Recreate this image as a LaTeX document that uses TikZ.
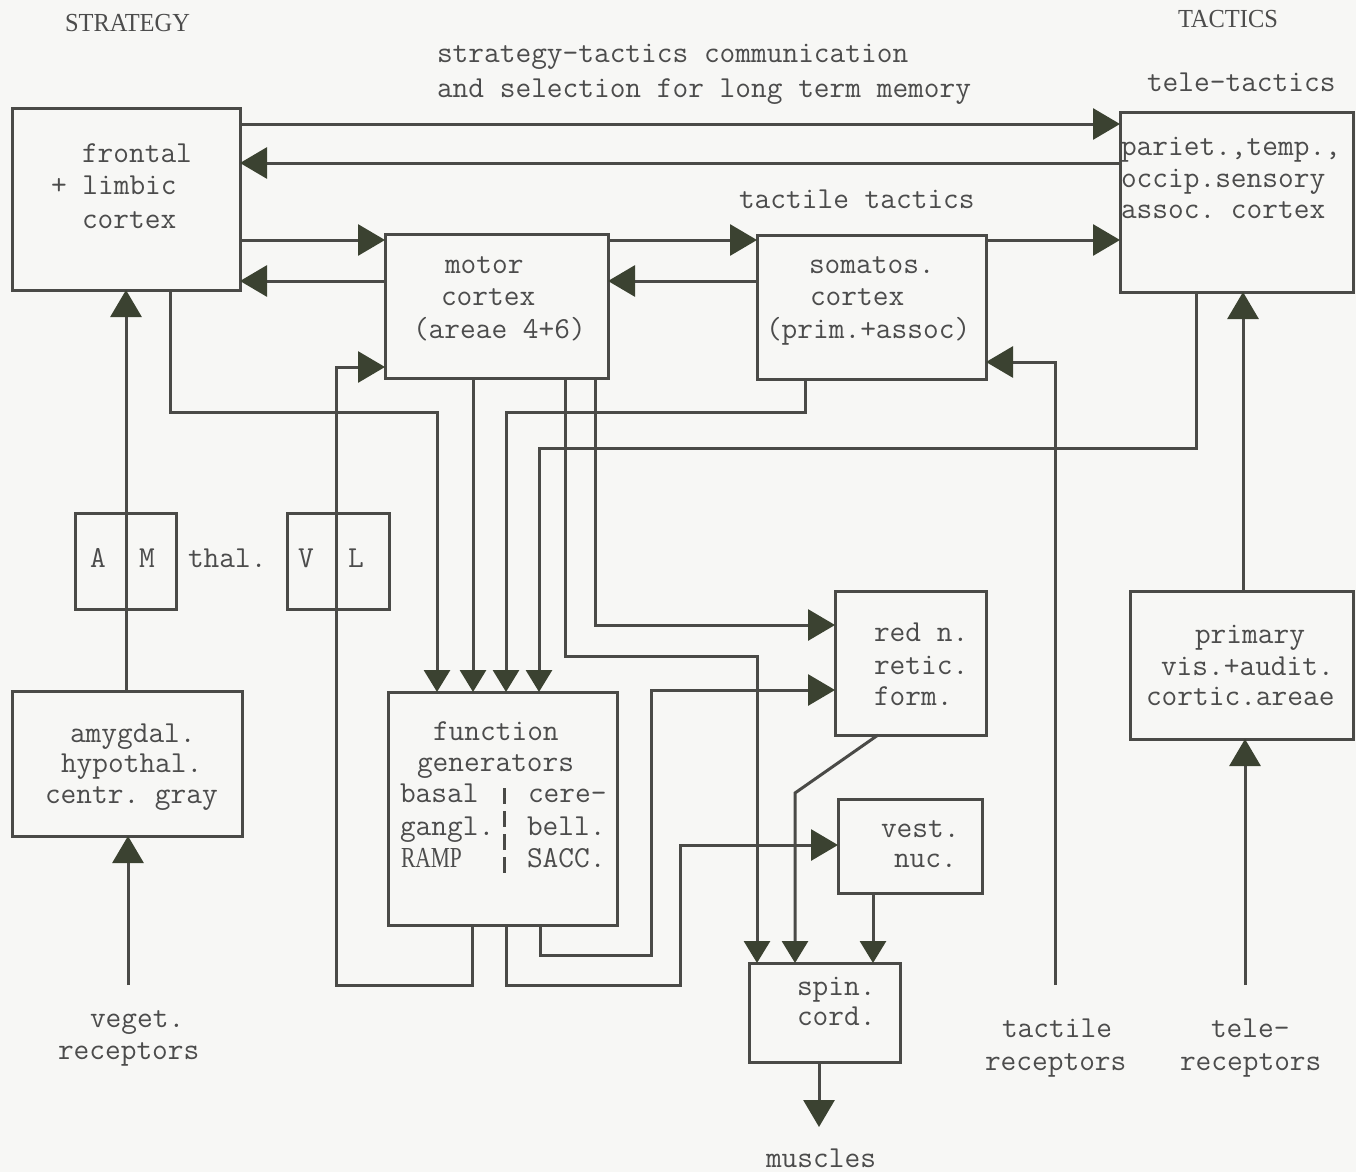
\documentclass[tikz,border=0pt]{standalone}
\usepackage{fontspec}
\usepackage{graphicx}
\newfontfamily\capsfont{Liberation Serif}
\usetikzlibrary{arrows.meta}
\definecolor{paper}{HTML}{F7F7F5}
\definecolor{ink}{HTML}{4A4A47}
\definecolor{tipc}{HTML}{3B4231}
\definecolor{type}{HTML}{4C4C4C}

\begin{document}
\begin{tikzpicture}[x=1pt,y=-1pt,
  box/.style={draw=ink, line width=3pt, rectangle, inner sep=0pt, outer sep=0pt},
  wire/.style={draw=ink, line width=3pt},
  arr/.style={wire, -{Triangle[length=27pt,width=31pt,color=tipc]}},
  arrs/.style={wire, -{Triangle[length=22pt,width=26pt,color=tipc]}},
  tx/.style={anchor=base west, inner sep=0pt, outer sep=0pt, text=type,
    font=\fontsize{30.5}{33}\selectfont\ttfamily\frenchspacing},
  txc/.style={tx, anchor=base},
  capstext/.style={anchor=base west, inner sep=0pt, outer sep=0pt, text=type,
    font=\fontsize{26}{28}\selectfont\capsfont}
]
% paper
\fill[paper] (0,0) rectangle (1356,1172);
\useasboundingbox (0,0) rectangle (1356,1172);

% ---------- boxes ----------
\node[box, minimum width=228pt, minimum height=182pt] (frontal) at (126,199) {};
\node[box, minimum width=223pt, minimum height=144pt] (motor)   at (496.5,306) {};
\node[box, minimum width=229pt, minimum height=144pt] (somatos) at (871.5,307) {};
\node[box, minimum width=233pt, minimum height=180pt] (pariet)  at (1236.5,202) {};
\node[box, minimum width=101pt, minimum height=96pt]  (am)      at (125.5,561) {};
\node[box, minimum width=102pt, minimum height=96pt]  (vl)      at (338,561) {};
\node[box, minimum width=230pt, minimum height=145pt] (amyg)    at (127,763.5) {};
\node[box, minimum width=229pt, minimum height=233pt] (fgen)    at (502.5,808.5) {};
\node[box, minimum width=151pt, minimum height=144pt] (red)     at (910.5,663) {};
\node[box, minimum width=144pt, minimum height=94pt]  (vest)    at (910,846) {};
\node[box, minimum width=151pt, minimum height=99pt]  (spin)    at (824.5,1012.5) {};
\node[box, minimum width=223pt, minimum height=148pt] (primary) at (1241.5,665) {};

% ---------- headings ----------
\node[capstext] (strategy) at (65,32) {\scalebox{0.94}[1]{STRATEGY}};
\node[capstext] (tactics) at (1178,28) {\scalebox{0.94}[1]{TACTICS}};
\node[tx] (comm1) at (437,63) {strategy-tactics communication};
\node[tx] (comm2) at (437,97) {and selection for long term memory};
\node[tx] (teletac) at (1147,92) {tele-tactics};
\node[tx] (tacttac) at (739,208) {tactile tactics};

% ---------- box texts ----------
\node[tx] (fr1) at (82,162) {frontal};
\node[tx] (fr2) at (51,194) {+ limbic};
\node[tx] (fr3) at (82,228) {cortex};

\node[tx] (mo1) at (445,273) {motor};
\node[tx] (mo2) at (441,305) {cortex};
\node[tx] (mo3) at (413,338) {(areae 4+6)};

\node[tx] (so1) at (809,273) {somatos.};
\node[tx] (so2) at (810,305) {cortex};
\node[tx] (so3) at (766,338) {(prim.+assoc)};

\node[tx] (pa1) at (1121,155) {pariet.,temp.,};
\node[tx] (pa2) at (1121,187) {occip.sensory};
\node[tx] (pa3) at (1121,218) {assoc. cortex};

\node[txc] (thA) at (98,567) {A};
\node[txc] (thM) at (147,567) {M};
\node[tx]  (thal) at (188,567) {thal.};
\node[txc] (thV) at (306,567) {V};
\node[txc] (thL) at (356,567) {L};

\node[tx] (am1) at (70,742) {amygdal.};
\node[tx] (am2) at (61,772) {hypothal.};
\node[tx] (am3) at (45,803) {centr. gray};

\node[tx] (ve1) at (90,1027) {veget.};
\node[tx] (ve2) at (58,1059) {receptors};

\node[tx] (fg1) at (433,740) {function};
\node[tx] (fg2) at (417,771) {generators};
\node[tx] (fg3) at (400,802) {basal};
\node[tx] (fg4) at (400,835) {gangl.};
\node[capstext, font=\fontsize{29}{30}\selectfont\capsfont] (fg5) at (401,867) {\scalebox{0.74}[1]{RAMP}};
\node[tx] (fg6) at (528,802) {cere-};
\node[tx] (fg7) at (527,835) {bell.};
\node[tx] (fg8) at (527,867) {SACC.};
\draw[ink, line width=3pt, dash pattern=on 16pt off 7pt] (504,788) -- (504,877);

\node[tx] (rn1) at (874,641) {red n.};
\node[tx] (rn2) at (874,674) {retic.};
\node[tx] (rn3) at (874,705) {form.};

\node[tx] (vn1) at (881,837) {vest.};
\node[tx] (vn2) at (894,867) {nuc.};

\node[tx] (sc1) at (797,995) {spin.};
\node[tx] (sc2) at (797,1025) {cord.};

\node[tx] (musc) at (766,1167) {muscles};

\node[tx] (pr1) at (1195,643) {primary};
\node[tx] (pr2) at (1161,675) {vis.+audit.};
\node[tx] (pr3) at (1146,705) {cortic.areae};

\node[tx] (tr1) at (1002,1037) {tactile};
\node[tx] (tr2) at (985,1070) {receptors};
\node[tx] (te1) at (1211,1037) {tele-};
\node[tx] (te2) at (1180,1070) {receptors};

% free ends of the receptor lines
\coordinate (vegend)  at (128,985);
\coordinate (tactend) at (1055,985);
\coordinate (teleend) at (1245,985);
\coordinate (muscend) at (819,1127);

% ---------- cortical connections ----------
\draw[arr] (frontal.east |- 0,124) -- (pariet.west |- 0,124);
\draw[arr] (pariet.west |- 0,163) -- (frontal.east |- 0,163);
\draw[arr] (frontal.east |- 0,240) -- (motor.west |- 0,240);
\draw[arr] (motor.west |- 0,281) -- (frontal.east |- 0,281);
\draw[arr] (motor.east |- 0,240) -- (somatos.west |- 0,240);
\draw[arr] (somatos.west |- 0,281) -- (motor.east |- 0,281);
\draw[arr] (somatos.east |- 0,240) -- (pariet.west |- 0,240);

% ---------- limbic and thalamic routes ----------
\draw[arr] (126,0 |- amyg.north) -- (126,0 |- frontal.south);
\draw[arr] (vegend) -- (vegend |- amyg.south);

% ---------- into the function generators ----------
\draw[arrs] (170,0 |- frontal.south) -- (170,412) -- (437,412) -- (437,0 |- fgen.north);
\draw[arrs] (473,0 |- motor.south) -- (473,0 |- fgen.north);
\draw[arrs] (805,0 |- somatos.south) -- (805,412) -- (506,412) -- (506,0 |- fgen.north);
\draw[arrs] (1196,0 |- pariet.south) -- (1196,448) -- (539,448) -- (539,0 |- fgen.north);

% ---------- motor outputs ----------
\draw[arr] (595,0 |- motor.south) -- (595,625) -- (red.west |- 0,625);
\draw[arrs] (565,0 |- motor.south) -- (565,656) -- (757,656) -- (757,0 |- spin.north);

% ---------- function generator outputs ----------
\draw[arr] (540,0 |- fgen.south) -- (540,955) -- (651,955) -- (651,690) -- (red.west |- 0,690);
\draw[arr] (506,0 |- fgen.south) -- (506,985) -- (680,985) -- (680,845) -- (vest.west |- 0,845);
\draw[arr] (472,0 |- fgen.south) -- (472,985) -- (336,985) -- (336,367) -- (motor.west |- 0,367);

% ---------- brainstem to spinal cord ----------
\draw[arrs] (878,0 |- red.south) -- (795,793) -- (795,0 |- spin.north);
\draw[arrs] (873,0 |- vest.south) -- (873,0 |- spin.north);
\draw[arr] (819,0 |- spin.south) -- (muscend);

% ---------- receptors ----------
\draw[arr] (tactend) -- (1055,362) -- (somatos.east |- 0,362);
\draw[arr] (teleend) -- (teleend |- primary.south);
\draw[arr] (1243,0 |- primary.north) -- (1243,0 |- pariet.south);
\end{tikzpicture}
\end{document}
